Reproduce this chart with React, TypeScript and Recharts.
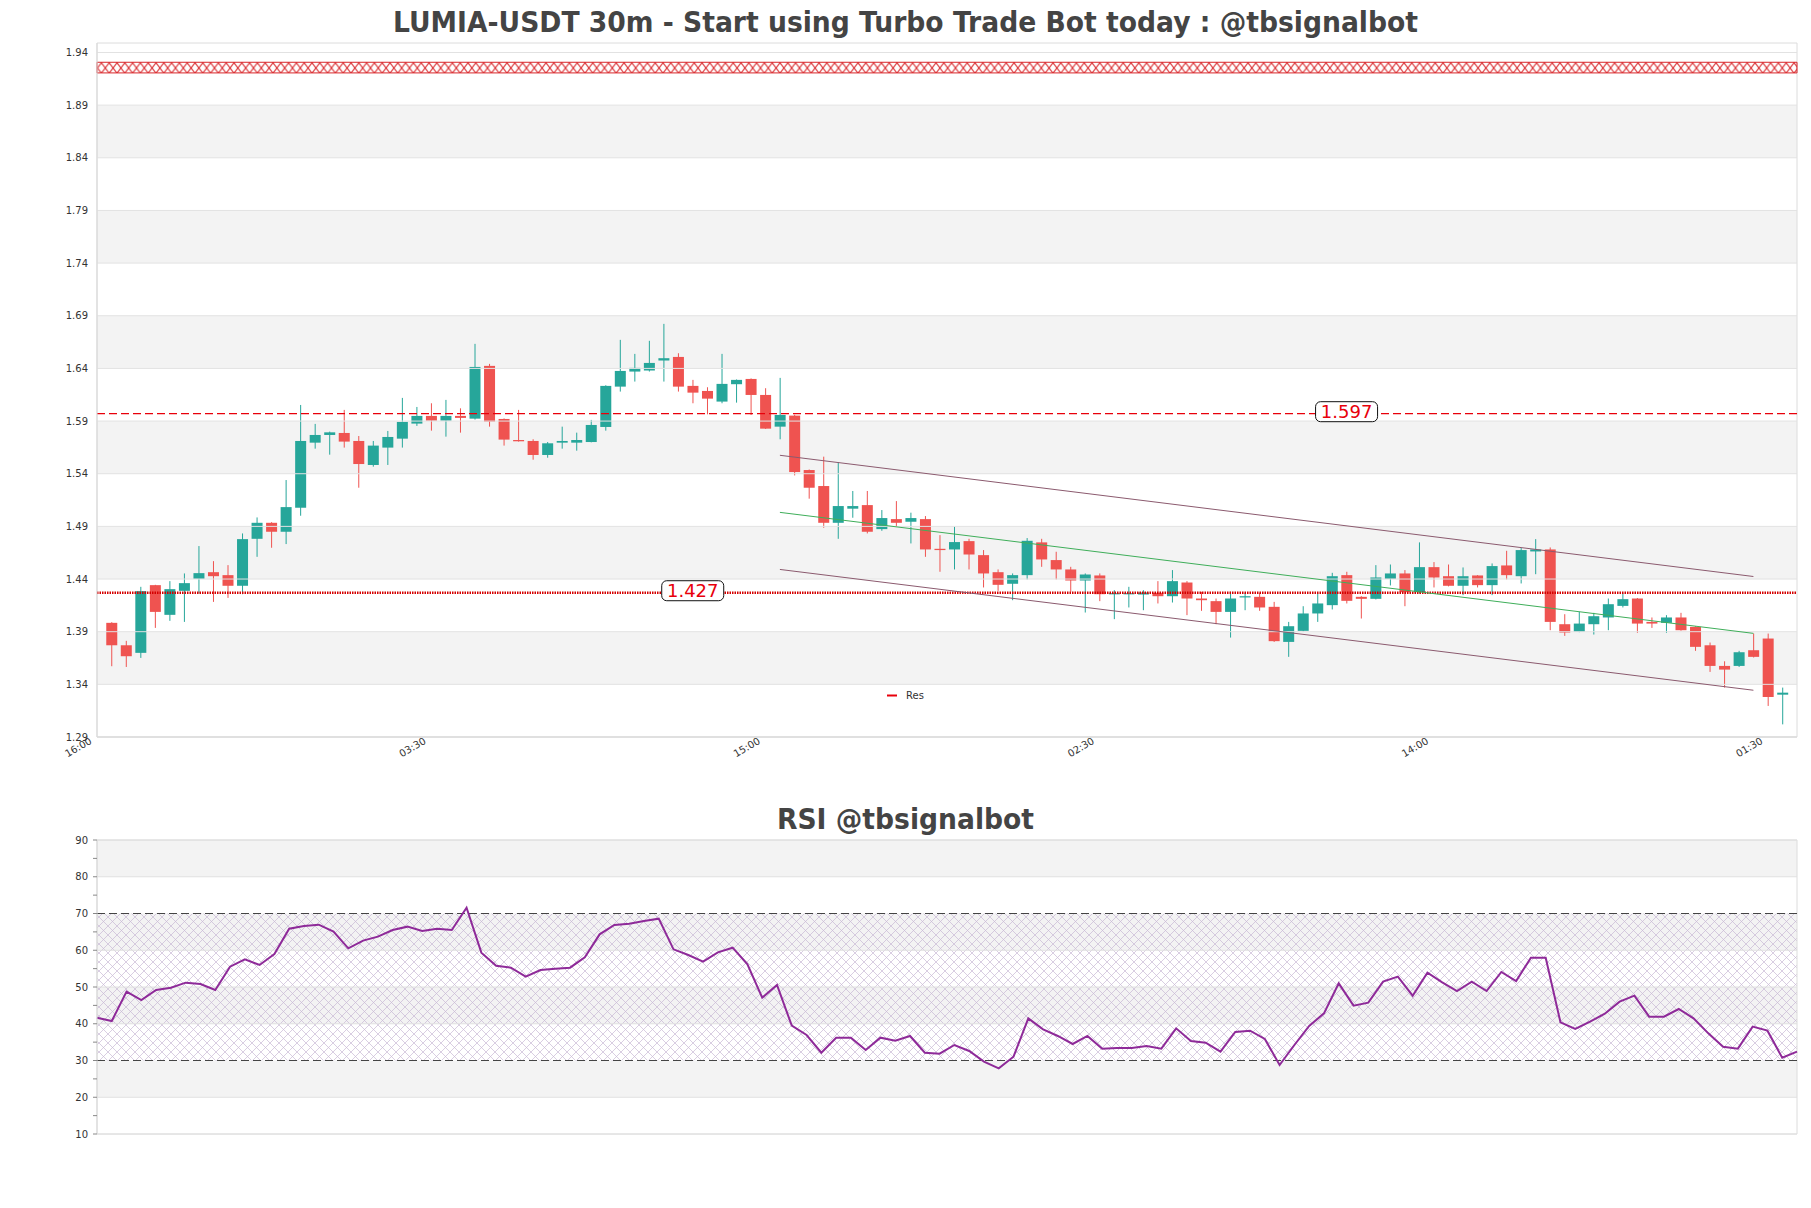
import React from "react";
import {
  ComposedChart,
  Bar,
  Line,
  XAxis,
  YAxis,
  ReferenceLine,
  ReferenceArea,
  ReferenceDot,
} from "recharts";

// 30m candles
const opens = [
  1.3984, 1.3771, 1.3699, 1.4342, 1.406, 1.4288, 1.4402, 1.4465, 1.4437, 1.4336,
  1.4782, 1.4934, 1.4849, 1.5077, 1.5695, 1.5768, 1.5787, 1.5711, 1.5483, 1.5648,
  1.5733, 1.5876, 1.5949, 1.5904, 1.5949, 1.5923, 1.6424, 1.592, 1.572, 1.5711,
  1.5578, 1.5695, 1.5695, 1.5701, 1.5844, 1.6227, 1.637, 1.638, 1.6475, 1.6509,
  1.6234, 1.6186, 1.6085, 1.625, 1.63, 1.6148, 1.5847, 1.5952, 1.5435, 1.5283,
  1.4934, 1.5068, 1.5102, 1.4874, 1.4969, 1.4944, 1.4969, 1.4687, 1.4681, 1.476,
  1.4627, 1.4465, 1.4355, 1.4437, 1.4748, 1.458, 1.4491, 1.4386, 1.4434, 1.426,
  1.4258, 1.4253, 1.4269, 1.4237, 1.4367, 1.4215, 1.419, 1.4088, 1.4225, 1.4231,
  1.4136, 1.3803, 1.3908, 1.4073, 1.4152, 1.4437, 1.4231, 1.4212, 1.4402, 1.4453,
  1.4275, 1.4513, 1.4427, 1.4336, 1.4434, 1.4342, 1.4529, 1.4427, 1.4662, 1.4681,
  1.3971, 1.3898, 1.3971, 1.4035, 1.4145, 1.4215, 1.3993, 1.3984, 1.4035, 1.3946,
  1.3771, 1.3575, 1.3575, 1.3724, 1.3835, 1.3302,
];
const highs = [
  1.399, 1.3813, 1.4326, 1.4345, 1.438, 1.4453, 1.4713, 1.457, 1.4532, 1.4833,
  1.4985, 1.494, 1.534, 1.6053, 1.5873, 1.58, 1.6006, 1.5758, 1.5711, 1.5806,
  1.612, 1.6034, 1.6069, 1.6101, 1.6021, 1.6633, 1.6443, 1.5925, 1.6006, 1.5727,
  1.5701, 1.5847, 1.579, 1.5911, 1.624, 1.6671, 1.6538, 1.6662, 1.6823, 1.6544,
  1.6291, 1.6221, 1.6538, 1.6295, 1.6305, 1.6212, 1.631, 1.596, 1.544, 1.5562,
  1.5508, 1.5236, 1.5236, 1.5055, 1.514, 1.503, 1.4998, 1.4817, 1.4897, 1.4782,
  1.4675, 1.4491, 1.4453, 1.4789, 1.4782, 1.4659, 1.4516, 1.4453, 1.4453, 1.4294,
  1.4326, 1.4294, 1.438, 1.4485, 1.438, 1.4279, 1.4215, 1.4279, 1.4269, 1.4269,
  1.4183, 1.3993, 1.4142, 1.4263, 1.4459, 1.4469, 1.4237, 1.4532, 1.4538, 1.4485,
  1.4748, 1.4561, 1.4538, 1.451, 1.4437, 1.4548, 1.4668, 1.4694, 1.4779, 1.47,
  1.4066, 1.4088, 1.4079, 1.4215, 1.4263, 1.422, 1.4035, 1.4057, 1.4079, 1.3952,
  1.3797, 1.3619, 1.3718, 1.3882, 1.3882, 1.3369,
];
const lows = [
  1.3572, 1.3565, 1.3651, 1.3936, 1.4003, 1.3993, 1.4263, 1.4183, 1.4221, 1.4256,
  1.4611, 1.4697, 1.4732, 1.5001, 1.5638, 1.5581, 1.5648, 1.5267, 1.5467, 1.5483,
  1.5648, 1.5854, 1.5809, 1.5752, 1.579, 1.5914, 1.5847, 1.5667, 1.5705, 1.5533,
  1.5552, 1.5638, 1.5619, 1.5698, 1.5809, 1.618, 1.6275, 1.637, 1.6275, 1.618,
  1.6069, 1.5964, 1.6069, 1.6075, 1.5958, 1.5825, 1.5727, 1.5384, 1.5163, 1.4887,
  1.4782, 1.4982, 1.4833, 1.4858, 1.4897, 1.4738, 1.4611, 1.4469, 1.4491, 1.4491,
  1.432, 1.4288, 1.4199, 1.4396, 1.4516, 1.4396, 1.4279, 1.4082, 1.419, 1.4019,
  1.413, 1.4104, 1.4168, 1.4177, 1.4057, 1.4098, 1.3971, 1.3844, 1.4104, 1.4098,
  1.3803, 1.3661, 1.3902, 1.3993, 1.4111, 1.4168, 1.4025, 1.4206, 1.4339, 1.4142,
  1.4263, 1.432, 1.433, 1.4247, 1.432, 1.4247, 1.4396, 1.4358, 1.4446, 1.3914,
  1.386, 1.3895, 1.3873, 1.3914, 1.413, 1.3889, 1.3936, 1.3889, 1.391, 1.3718,
  1.3518, 1.3369, 1.3565, 1.3655, 1.3195, 1.302,
];
const closes = [
  1.3771, 1.3667, 1.4285, 1.4088, 1.4304, 1.4361, 1.4456, 1.4427, 1.4336, 1.4779,
  1.4934, 1.4849, 1.5083, 1.5711, 1.5768, 1.5793, 1.5705, 1.5492, 1.5667, 1.5749,
  1.5892, 1.5949, 1.5904, 1.5949, 1.593, 1.6414, 1.5895, 1.5724, 1.5708, 1.5578,
  1.5689, 1.5711, 1.572, 1.5863, 1.6234, 1.6376, 1.6405, 1.6452, 1.6497, 1.6227,
  1.617, 1.6113, 1.6253, 1.6291, 1.6148, 1.5828, 1.5958, 1.5416, 1.5267, 1.4934,
  1.5093, 1.5093, 1.4849, 1.4979, 1.4934, 1.4979, 1.4681, 1.4675, 1.4751, 1.4633,
  1.4453, 1.4345, 1.4437, 1.4763, 1.4586, 1.4491, 1.4386, 1.4443, 1.4256, 1.4266,
  1.4266, 1.4272, 1.4237, 1.438, 1.4215, 1.4199, 1.4088, 1.4215, 1.4237, 1.413,
  1.381, 1.3952, 1.4073, 1.4168, 1.4427, 1.4193, 1.4212, 1.4415, 1.4453, 1.4275,
  1.4513, 1.4415, 1.4336, 1.4427, 1.4342, 1.4523, 1.4437, 1.4675, 1.4681, 1.3993,
  1.3892, 1.3977, 1.4047, 1.4161, 1.4209, 1.3977, 1.3977, 1.4035, 1.3914, 1.3756,
  1.3575, 1.354, 1.3705, 1.3661, 1.328, 1.3321,
];

const rsiValues = [
  41.66, 40.75, 48.73, 46.46, 49.18, 49.82, 51.18, 50.82, 49.18, 55.53,
  57.53, 55.99, 58.98, 65.87, 66.6, 66.96, 65.06, 60.52, 62.61, 63.7,
  65.51, 66.42, 65.24, 65.87, 65.51, 71.59, 59.34, 55.8, 55.26, 52.81,
  54.63, 54.99, 55.26, 58.07, 64.33, 66.87, 67.23, 67.96, 68.59, 60.25,
  58.71, 56.89, 59.43, 60.7, 56.17, 47.1, 50.54, 39.48, 36.94, 32.13,
  36.21, 36.21, 32.86, 36.21, 35.4, 36.67, 32.13, 31.86, 34.22, 32.59,
  29.68, 27.87, 31.04, 41.47, 38.48, 36.67, 34.49, 36.67, 33.22, 33.4,
  33.4, 33.95, 33.22, 38.75, 35.31, 34.85, 32.4, 37.76, 38.12, 35.85,
  28.78, 34.22, 39.39, 42.83, 51.0, 44.92, 45.74, 51.45, 52.81, 47.64,
  53.9, 51.27, 48.91, 51.45, 48.91, 54.08, 51.63, 57.98, 57.98, 40.39,
  38.57, 40.57, 42.74, 46.01, 47.64, 41.93, 41.93, 44.01, 41.47, 37.39,
  33.76, 33.22, 39.21, 38.12, 30.77, 32.4,
];

const timeTicks = [0, 23, 46, 69, 92, 115];
const timeLabels = ["16:00", "03:30", "15:00", "02:30", "14:00", "01:30"];
const priceTicks = [1.29, 1.34, 1.39, 1.44, 1.49, 1.54, 1.59, 1.64, 1.69, 1.74, 1.79, 1.84, 1.89, 1.94];
const priceBands = [[1.34, 1.39], [1.44, 1.49], [1.54, 1.59], [1.64, 1.69], [1.74, 1.79], [1.84, 1.89]];
const priceMin = 1.29;
const priceMax = 1.949;

const resistance = 1.597;
const support = 1.427;
const supplyZone = [1.9206, 1.9307];

// regression channel, from candle 46 to candle 113
const channelX = [46, 113];
const channelUpper = [1.5575, 1.4424];
const channelMid = [1.5033, 1.3884];
const channelLower = [1.4491, 1.3344];

const rsiTicks = [10, 15, 20, 25, 30, 35, 40, 45, 50, 55, 60, 65, 70, 75, 80, 85, 90];
const rsiGrid = [10, 20, 40, 50, 60, 80, 90];
const rsiBands = [[20, 30], [40, 50], [60, 70], [80, 90]];
const rsiLevels = [30, 70];

const candles = opens.map((open, i) => ({ i, open, high: highs[i], low: lows[i], close: closes[i] }));
const rsiData = rsiValues.map((rsi, i) => ({ i, rsi }));

const UP = "#26a69a";
const DOWN = "#ef5350";
const FONT = "'DejaVu Sans', sans-serif";

function Candle(props: any) {
  let { x, y, width, height, payload } = props;
  if (!payload) return null;
  if (height < 0) {
    y += height;
    height = -height;
  }
  const { open, close, high, low } = payload;
  const color = close >= open ? UP : DOWN;
  const k = high > low ? height / (high - low) : 0;
  const cx = x + width / 2;
  const top = y + (high - Math.max(open, close)) * k;
  const bottom = y + (high - Math.min(open, close)) * k;
  return (
    <g>
      <line x1={cx} x2={cx} y1={y} y2={y + height} stroke={color} strokeWidth={1} />
      <rect x={x} y={top} width={width} height={Math.max(bottom - top, 1.2)} fill={color} />
    </g>
  );
}

function PriceTick(props: any) {
  const { x, y, payload } = props;
  return (
    <text x={x - 1} y={y} dy={3.5} textAnchor="end" fontSize={10} fill="#333" fontFamily={FONT}>
      {payload.value.toFixed(2)}
    </text>
  );
}

function TimeTick(props: any) {
  const { x, payload } = props;
  const k = timeTicks.indexOf(payload.value);
  if (k < 0) return <g />;
  return (
    <text
      transform={`translate(${x - 19},743) rotate(-30)`}
      textAnchor="end"
      fontSize={10}
      fill="#333"
      fontFamily={FONT}
    >
      {timeLabels[k]}
    </text>
  );
}

function RsiTick(props: any) {
  const { x, y, payload } = props;
  if (payload.value % 10 !== 0) return <g />;
  return (
    <text x={x - 3} y={y} dy={3.5} textAnchor="end" fontSize={10} fill="#333" fontFamily={FONT}>
      {payload.value}
    </text>
  );
}

function LevelTag(props: any) {
  const { cx, cy, text } = props;
  return (
    <g>
      <rect x={cx - 31} y={cy - 12} width={62} height={20} rx={5} fill="#fff" stroke="#111" strokeWidth={1} />
      <text x={cx} y={cy + 4.5} textAnchor="middle" fontSize={18} fill="#e8000b" fontFamily={FONT}>
        {text}
      </text>
    </g>
  );
}

export default function App() {
  return (
    <div style={{ position: "absolute", left: 0, top: 0, width: 1811, height: 1208, background: "#fff" }}>
      <svg width={0} height={0} style={{ position: "absolute" }}>
        <defs>
          <pattern id="xhatch" patternUnits="userSpaceOnUse" x={0} y={62.7} width={7.8} height={10.6}>
            <path d="M0,0 L7.8,10.6 M7.8,0 L0,10.6 M0,0 L0,1.5 M0,9.1 L0,10.6" stroke="#d8262a" strokeWidth={1} fill="none" />
          </pattern>
          <pattern id="diamond" patternUnits="userSpaceOnUse" width={9} height={9}>
            <path d="M0,0 L9,9 M9,0 L0,9" stroke="#c9b9d6" strokeWidth={0.7} fill="none" />
          </pattern>
        </defs>
      </svg>

      <div style={{ position: "absolute", left: 0, top: 0 }}>
        <ComposedChart
          width={1811}
          height={790}
          data={candles}
          margin={{ top: 43, right: 14, bottom: 0, left: 0 }}
        >
          <XAxis
            dataKey="i"
            type="number"
            domain={[-1, candles.length]}
            ticks={timeTicks}
            interval={0}
            tick={<TimeTick />}
            tickLine={false}
            axisLine={{ stroke: "#d9d9d9" }}
            height={53}
            allowDataOverflow
          />
          <YAxis
            type="number"
            domain={[priceMin, priceMax]}
            ticks={priceTicks}
            tick={<PriceTick />}
            tickLine={false}
            axisLine={{ stroke: "#d9d9d9" }}
            width={97}
            allowDataOverflow
          />
          {priceBands.map(([a, b]) => (
            <ReferenceArea key={`b${a}`} y1={a} y2={b} fill="#f3f3f3" fillOpacity={1} stroke="none" />
          ))}
          {priceTicks.map((v) => (
            <ReferenceLine key={`g${v}`} y={v} stroke="#e2e2e2" strokeWidth={1} />
          ))}
          <ReferenceArea y1={priceMin} y2={priceMax} fill="none" stroke="#dcdcdc" />
          <ReferenceArea
            y1={supplyZone[0]}
            y2={supplyZone[1]}
            fill="url(#xhatch)"
            fillOpacity={1}
            stroke="#d8262a"
            strokeWidth={1}
          />
          <Bar dataKey={(d: any) => [d.low, d.high]} shape={<Candle />} barSize={11} isAnimationActive={false} />
          <ReferenceLine y={resistance} stroke="#e8000b" strokeDasharray="8 4" strokeWidth={1.3} />
          <ReferenceLine y={support} stroke="#d40000" strokeDasharray="1.5 1" strokeWidth={2.5} />
          <ReferenceLine
            segment={[{ x: channelX[0], y: channelUpper[0] }, { x: channelX[1], y: channelUpper[1] }]}
            stroke="#8b5a6e"
            strokeWidth={1}
          />
          <ReferenceLine
            segment={[{ x: channelX[0], y: channelMid[0] }, { x: channelX[1], y: channelMid[1] }]}
            stroke="#3fae5a"
            strokeWidth={1}
          />
          <ReferenceLine
            segment={[{ x: channelX[0], y: channelLower[0] }, { x: channelX[1], y: channelLower[1] }]}
            stroke="#8b5a6e"
            strokeWidth={1}
          />
          <ReferenceDot
            x={85}
            y={resistance}
            r={1}
            shape={(p: any) => <LevelTag {...p} text={resistance.toFixed(3)} />}
          />
          <ReferenceDot
            x={40}
            y={support}
            r={1}
            shape={(p: any) => <LevelTag {...p} text={support.toFixed(3)} />}
          />
        </ComposedChart>
      </div>

      <div style={{ position: "absolute", left: 0, top: 800 }}>
        <ComposedChart
          width={1811}
          height={400}
          data={rsiData}
          margin={{ top: 40, right: 14, bottom: 66, left: 0 }}
        >
          <XAxis dataKey="i" type="number" domain={[0, rsiValues.length - 1]} hide />
          <YAxis
            type="number"
            domain={[10, 90]}
            ticks={rsiTicks}
            interval={0}
            tick={<RsiTick />}
            tickSize={4}
            tickLine={{ stroke: "#888" }}
            axisLine={{ stroke: "#d9d9d9" }}
            width={97}
          />
          {rsiBands.map(([a, b]) => (
            <ReferenceArea key={`rb${a}`} y1={a} y2={b} fill="#f3f3f3" fillOpacity={1} stroke="none" />
          ))}
          <ReferenceArea y1={rsiLevels[0]} y2={rsiLevels[1]} fill="url(#diamond)" fillOpacity={1} stroke="none" />
          {rsiGrid.map((v) => (
            <ReferenceLine key={`rg${v}`} y={v} stroke="#e0e0e0" strokeWidth={1} />
          ))}
          <ReferenceArea y1={10} y2={90} fill="none" stroke="#dcdcdc" />
          {rsiLevels.map((v) => (
            <ReferenceLine key={`rl${v}`} y={v} stroke="#444" strokeDasharray="8 4" strokeWidth={1} />
          ))}
          <Line
            dataKey="rsi"
            type="linear"
            stroke="#8e2a99"
            strokeWidth={2}
            dot={false}
            isAnimationActive={false}
          />
        </ComposedChart>
      </div>

      <svg
        width={1811}
        height={1208}
        style={{ position: "absolute", left: 0, top: 0, pointerEvents: "none" }}
      >
        <text
          x={905.5}
          y={32}
          textAnchor="middle"
          fontSize={28}
          fontWeight="bold"
          fill="#444"
          fontFamily={FONT}
          textLength={1025}
          lengthAdjust="spacingAndGlyphs"
        >
          LUMIA-USDT 30m - Start using Turbo Trade Bot today : @tbsignalbot
        </text>
        <text
          x={905.5}
          y={829}
          textAnchor="middle"
          fontSize={28}
          fontWeight="bold"
          fill="#444"
          fontFamily={FONT}
          textLength={257}
          lengthAdjust="spacingAndGlyphs"
        >
          RSI @tbsignalbot
        </text>
        <line x1={887} x2={897} y1={695.5} y2={695.5} stroke="#e8000b" strokeWidth={2} />
        <text x={906} y={699} fontSize={10} fill="#333" fontFamily={FONT}>
          Res
        </text>
      </svg>
    </div>
  );
}
